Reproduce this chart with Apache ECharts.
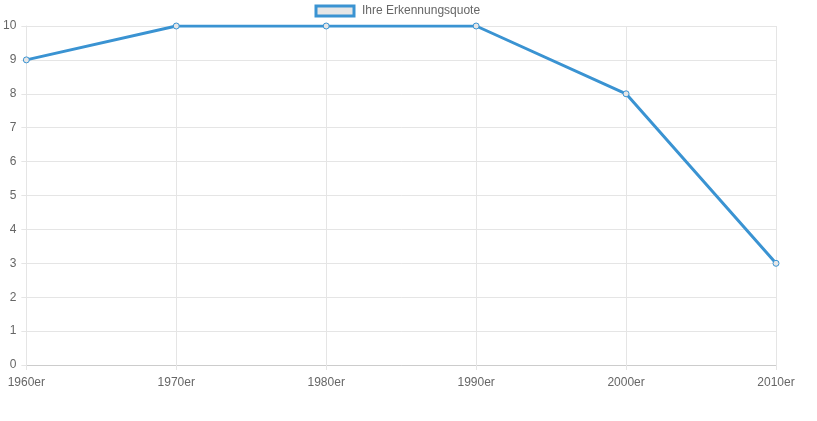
<!DOCTYPE html>
<html>
<head>
<meta charset="utf-8">
<script src="https://cdn.jsdelivr.net/npm/echarts@6/dist/echarts.min.js"></script>
<style>html,body{margin:0;padding:0;background:#fff;}#c{width:817px;height:421px;}</style>
</head>
<body>
<div id="c"></div>
<script>
const categories = ['1960er', '1970er', '1980er', '1990er', '2000er', '2010er'];
const seriesName = 'Ihre Erkennungsquote';
const values = [9, 10, 10, 10, 8, 3];
const yTicks = [0, 1, 2, 3, 4, 5, 6, 7, 8, 9, 10];

const lineColor = '#3a93d2';
const chart = echarts.init(document.getElementById('c'), null, {renderer: 'canvas'});
chart.setOption({
  animation: false,
  textStyle: {fontFamily: 'Liberation Sans, Arial, sans-serif'},
  legend: {
    left: 314.5, top: 4.5, padding: 0,
    icon: 'rect', itemWidth: 38, itemHeight: 10, itemGap: 10,
    textStyle: {color: '#666', fontSize: 12, padding: [0, 0, 0, 3]},
    itemStyle: {color: '#e6e6e6', borderColor: lineColor, borderWidth: 3},
    data: [seriesName]
  },
  grid: {left: 26, right: 41, top: 26, bottom: 56},
  xAxis: {
    type: 'category', data: categories, boundaryGap: false,
    axisLine: {lineStyle: {color: '#cccccc', width: 1}},
    axisTick: {show: true, length: 5, alignWithLabel: true, lineStyle: {color: '#e5e5e5'}},
    axisLabel: {color: '#666', fontSize: 12, margin: 12},
    splitLine: {show: true, lineStyle: {color: '#e5e5e5'}}
  },
  yAxis: {
    type: 'value', min: yTicks[0], max: yTicks[yTicks.length - 1], interval: 1,
    axisLine: {show: true, lineStyle: {color: '#e5e5e5'}},
    axisTick: {show: true, length: 5, lineStyle: {color: '#e5e5e5'}},
    axisLabel: {color: '#666', fontSize: 12, margin: 10},
    splitLine: {show: true, lineStyle: {color: '#e5e5e5'}}
  },
  series: [{
    name: seriesName, type: 'line', data: values,
    symbol: 'circle', symbolSize: 6, showSymbol: true,
    lineStyle: {color: lineColor, width: 3},
    itemStyle: {color: '#e6e6e6', borderColor: lineColor, borderWidth: 1}
  }]
});
</script>
</body>
</html>
